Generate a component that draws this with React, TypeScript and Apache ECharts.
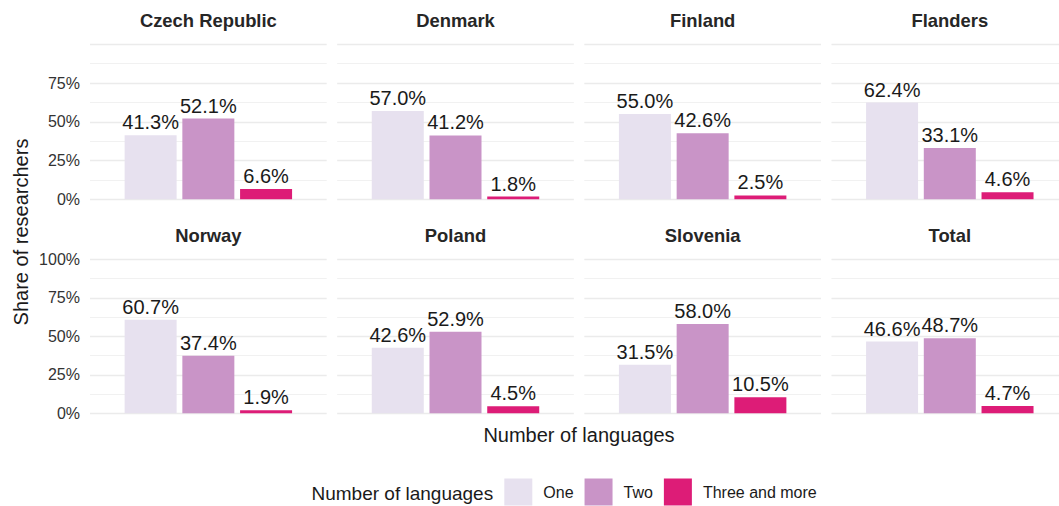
import React, { useEffect, useRef } from 'react';
import * as echarts from 'echarts';

const panels = ['Czech Republic', 'Denmark', 'Finland', 'Flanders', 'Norway', 'Poland', 'Slovenia', 'Total'];
const categories = ['One', 'Two', 'Three and more'];
const shareOne = [41.3, 57.0, 55.0, 62.4, 60.7, 42.6, 31.5, 46.6];
const shareTwo = [52.1, 41.2, 42.6, 33.1, 37.4, 52.9, 58.0, 48.7];
const shareThree = [6.6, 1.8, 2.5, 4.6, 1.9, 4.5, 10.5, 4.7];
const categoryPositions = [1, 2, 3];
const yTicks = [0, 25, 50, 75, 100];

const colors = ['#E7E1EF', '#C994C7', '#DD1C77'];
const FONT = '"Liberation Sans", Arial, Helvetica, sans-serif';

export default function App() {
  const ref = useRef<HTMLDivElement>(null);
  useEffect(() => {
    if (!ref.current) return;
    const chart = echarts.init(ref.current, null, { renderer: 'svg' });
    const values = [shareOne, shareTwo, shareThree];
    const W = 1059;
    const panelLeft0 = 90;
    const panelStep = 247.15;
    const panelW = 236.7;
    const xMin = -0.05;
    const xSpan = 4.1;
    const rowTop = [44.3, 259.3];
    const rowH = [155, 154];
    const grids: any[] = [];
    const xAxes: any[] = [];
    const yAxes: any[] = [];
    const series: any[] = [];
    const graphics: any[] = [];
    panels.forEach((name, p) => {
      const row = Math.floor(p / 4);
      const col = p % 4;
      const left = panelLeft0 + col * panelStep;
      const visibleW = Math.min(panelW, W - left);
      grids.push({ left, top: rowTop[row], width: visibleW, height: rowH[row], containLabel: false });
      xAxes.push({
        type: 'value', gridIndex: p, min: xMin, max: xMin + (xSpan * visibleW) / panelW,
        axisLine: { show: false }, axisTick: { show: false }, axisLabel: { show: false },
        splitLine: { show: false },
      });
      yAxes.push({
        type: 'value', gridIndex: p, min: yTicks[0], max: yTicks[yTicks.length - 1], interval: 25,
        axisLine: { show: false }, axisTick: { show: false },
        axisLabel: {
          show: col === 0, fontSize: 16, color: '#333333', fontFamily: FONT, margin: 10,
          formatter: (v: number) => (row === 0 && v === 100 ? '' : v + '%'),
        },
        splitLine: { show: true, lineStyle: { color: '#EBEBEB', width: 1.3 } },
        minorTick: { show: false, splitNumber: 2 },
        minorSplitLine: { show: true, lineStyle: { color: '#EFEFEF', width: 0.9 } },
      });
      categories.forEach((c, ci) => {
        series.push({
          type: 'bar', name: c, xAxisIndex: p, yAxisIndex: p,
          data: [[categoryPositions[ci], values[ci][p]]],
          barWidth: 52, barGap: '-100%',
          itemStyle: { color: colors[ci] },
          label: {
            show: true, position: 'top', distance: 3, fontSize: 20, color: '#1a1a1a', fontFamily: FONT,
            formatter: (d: any) => d.value[1].toFixed(1) + '%',
          },
        });
      });
      graphics.push({
        type: 'text', x: left + panelW / 2, y: row === 0 ? 20.5 : 235,
        style: { text: name, fontSize: 18.4, fontWeight: 'bold', fill: '#262626', fontFamily: FONT, textAlign: 'center', textVerticalAlign: 'middle' },
      });
    });
    graphics.push({
      type: 'text', x: 21, y: 232, rotation: Math.PI / 2,
      style: { text: 'Share of researchers', fontSize: 20, fill: '#1a1a1a', fontFamily: FONT, textAlign: 'center', textVerticalAlign: 'middle' },
    });
    graphics.push({
      type: 'text', x: 579, y: 435,
      style: { text: 'Number of languages', fontSize: 20, fill: '#1a1a1a', fontFamily: FONT, textAlign: 'center', textVerticalAlign: 'middle' },
    });
    graphics.push({
      type: 'text', x: 311.5, y: 493,
      style: { text: 'Number of languages', fontSize: 19, fill: '#1a1a1a', fontFamily: FONT, textAlign: 'left', textVerticalAlign: 'middle' },
    });
    chart.setOption({
      animation: false,
      backgroundColor: '#ffffff',
      grid: grids,
      xAxis: xAxes,
      yAxis: yAxes,
      series,
      legend: {
        data: categories, left: 504.3, top: 478.5, orient: 'horizontal',
        icon: 'rect', itemWidth: 28, itemHeight: 27, itemGap: 11, padding: 0,
        textStyle: { fontSize: 16, color: '#1a1a1a', fontFamily: FONT, padding: [0, 0, 0, 6] },
      },
      graphic: graphics,
    });
    return () => chart.dispose();
  }, []);
  return <div ref={ref} style={{ position: 'absolute', left: 0, top: 0, width: 1059, height: 506 }} />;
}
